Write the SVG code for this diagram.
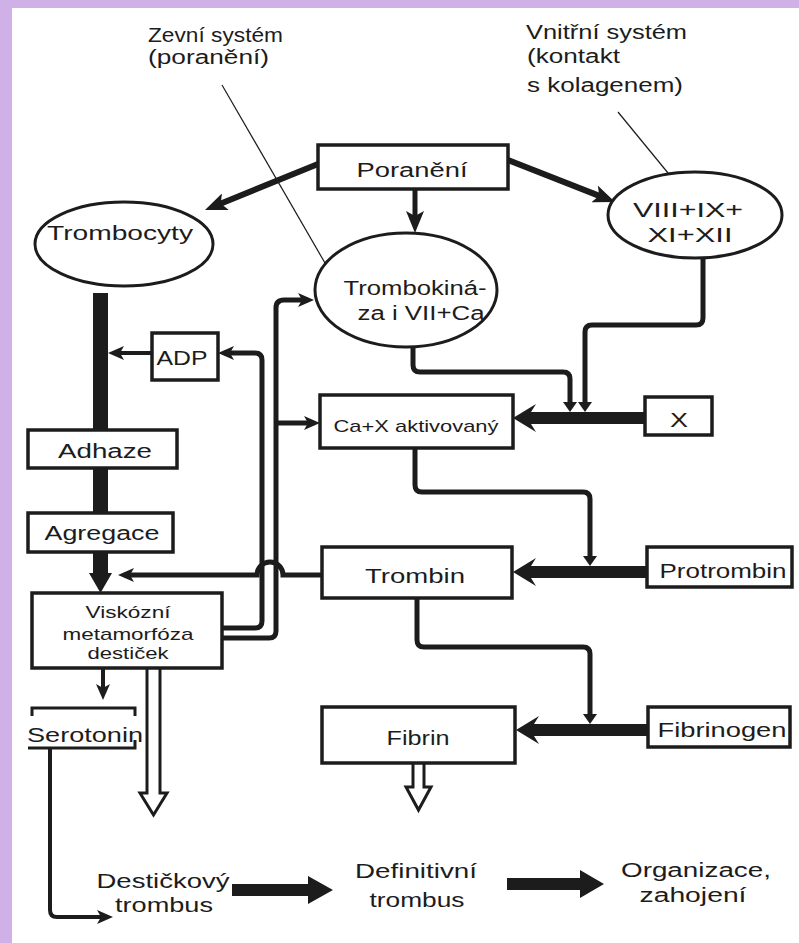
<svg xmlns="http://www.w3.org/2000/svg" width="799" height="943" viewBox="0 0 799 943">
<defs>
<style>
.t{font-family:"Liberation Sans",Arial,sans-serif;font-size:20px;fill:#1c1c1c}
.s{font-size:17px}
.box{fill:#fff;stroke:#1c1c1c;stroke-width:3.5}
.ell{fill:#fff;stroke:#1c1c1c;stroke-width:3}
.ln{fill:none;stroke:#1c1c1c;stroke-width:5}
.lt{fill:none;stroke:#1c1c1c;stroke-width:1.2}
.fill{fill:#1c1c1c}
.hol{fill:#fff;stroke:#1c1c1c;stroke-width:3}
</style>
<marker id="ah" viewBox="0 0 16 14" refX="10" refY="7" markerWidth="16" markerHeight="14" markerUnits="userSpaceOnUse" orient="auto">
<path d="M0,0 L16,7 L0,14 L4,7 z" fill="#1c1c1c"/>
</marker>
<marker id="ahL" viewBox="0 0 22 18" refX="14" refY="9" markerWidth="22" markerHeight="18" markerUnits="userSpaceOnUse" orient="auto">
<path d="M0,0 L22,9 L0,18 L5,9 z" fill="#1c1c1c"/>
</marker>
<marker id="ahs" viewBox="0 0 10 14" refX="4" refY="7" markerWidth="10" markerHeight="14" markerUnits="userSpaceOnUse" orient="auto">
<path d="M0,0 L10,7 L0,14 z" fill="#1c1c1c"/>
</marker>
</defs>
<rect x="0" y="0" width="799" height="943" fill="#fff"/>
<rect x="0" y="0" width="799" height="8" fill="#cfb1e7"/>
<rect x="0" y="0" width="12" height="943" fill="#cfb1e7"/>

<g id="connectors">
<line class="lt" x1="222" y1="85" x2="325" y2="263"/>
<line class="lt" x1="618" y1="112" x2="668" y2="173"/>
<path class="ln" style="stroke-width:6" d="M318,164 L212.4,207" marker-end="url(#ahL)"/>
<path class="ln" d="M415,190 V225" marker-end="url(#ahL)"/>
<path class="ln" style="stroke-width:6" d="M508,160 L607.6,199.1" marker-end="url(#ahL)"/>
<path class="ln" d="M703,258 V318 Q703,325 696,325 H592 Q585,325 585,332 V406" marker-end="url(#ahs)"/>
<path class="ln" d="M413,347 V365 Q413,372 420,372 H563 Q570,372 570,379 V406" marker-end="url(#ahs)"/>
<path class="fill" d="M513,418 L536,404 L531,412 H645 V424 H531 L536,432 Z"/>
<path class="ln" d="M415,448 V485 Q415,492 422,492 H583 Q590,492 590,499 V560" marker-end="url(#ahs)"/>
<path class="fill" d="M513,572 L536,558 L531,566 H647 V578 H531 L536,586 Z"/>
<path class="ln" d="M417,598 V640 Q417,647 424,647 H583 Q590,647 590,654 V718" marker-end="url(#ahs)"/>
<path class="fill" d="M516,730 L539,716 L534,724 H648 V736 H534 L539,744 Z"/>
<path class="hol" d="M413,763 V787 H406 L418.5,810 L431,787 H424 V763"/>
<rect class="fill" x="93" y="293" width="15" height="282"/>
<path class="fill" d="M89,573 L112,573 L100.5,593 Z"/>
<path class="ln" style="stroke-width:4" d="M152,353 H114" marker-end="url(#ah)"/>
<path class="ln" d="M222,628 H255 Q262,628 262,621 V360 Q262,353 255,353 H224" marker-end="url(#ah)"/>
<path class="ln" d="M222,638 H269 Q276,638 276,631 V308 Q276,300 284,300 H308" marker-end="url(#ah)"/>
<path class="ln" d="M276,423 H314" marker-end="url(#ah)"/>
<path class="ln" d="M322,575 H283 A12,12 0 0 0 257,575 H124" marker-end="url(#ah)"/>
<path class="ln" style="stroke-width:4" d="M103,668 V694" marker-end="url(#ah)"/>
<path class="hol" d="M147,668 V793 H140 L153.5,815 L167,793 H160 V668"/>
<path class="ln" style="stroke-width:4" d="M50,748 V910 Q50,917 57,917 H107" marker-end="url(#ah)"/>
<path class="fill" d="M232,884 H308 V876 L333,890 L308,904 V896 H232 Z"/>
<path class="fill" d="M507,878 H580 V870 L604,884 L580,898 V890 H507 Z"/>
</g>

<g id="label-zevni">
<text class="t" x="148" y="42" textLength="135" lengthAdjust="spacingAndGlyphs">Zevní systém</text>
<text class="t" x="148" y="64" textLength="121" lengthAdjust="spacingAndGlyphs">(poranění)</text>
</g>
<g id="label-vnitrni">
<text class="t" x="526" y="39" textLength="161" lengthAdjust="spacingAndGlyphs">Vnitřní systém</text>
<text class="t" x="527" y="63" textLength="93" lengthAdjust="spacingAndGlyphs">(kontakt</text>
<text class="t" x="527" y="92" textLength="156" lengthAdjust="spacingAndGlyphs">s kolagenem)</text>
</g>
<g id="poraneni">
<rect class="box" x="318" y="145" width="190" height="44"/>
<text class="t" x="412" y="177" text-anchor="middle" textLength="111" lengthAdjust="spacingAndGlyphs">Poranění</text>
</g>
<g id="trombocyty">
<ellipse class="ell" cx="124" cy="244" rx="89" ry="42"/>
<text class="t" x="120" y="240" text-anchor="middle" textLength="146" lengthAdjust="spacingAndGlyphs">Trombocyty</text>
</g>
<g id="trombokinaza">
<ellipse class="ell" cx="406" cy="290" rx="91" ry="57"/>
<text class="t" x="415" y="295" text-anchor="middle" textLength="143" lengthAdjust="spacingAndGlyphs">Trombokiná-</text>
<text class="t" x="421" y="320" text-anchor="middle" textLength="127" lengthAdjust="spacingAndGlyphs">za i VII+Ca</text>
</g>
<g id="viii">
<ellipse class="ell" cx="695" cy="215" rx="87" ry="43"/>
<text class="t" x="688" y="217" text-anchor="middle" textLength="110" lengthAdjust="spacingAndGlyphs">VIII+IX+</text>
<text class="t" x="690" y="242" text-anchor="middle" textLength="85" lengthAdjust="spacingAndGlyphs">XI+XII</text>
</g>
<g id="adp">
<rect class="box" x="152" y="333" width="66" height="47"/>
<text class="t" x="182" y="365" text-anchor="middle" textLength="51" lengthAdjust="spacingAndGlyphs">ADP</text>
</g>
<g id="cax">
<rect class="box" x="320" y="395" width="193" height="53"/>
<text class="t s" x="416" y="432" text-anchor="middle" textLength="165" lengthAdjust="spacingAndGlyphs">Ca+X aktivovaný</text>
</g>
<g id="x">
<rect class="box" x="645" y="397" width="67" height="38"/>
<text class="t" x="679" y="427" text-anchor="middle" textLength="18" lengthAdjust="spacingAndGlyphs">X</text>
</g>
<g id="adhaze">
<rect class="box" x="28" y="430" width="149" height="38"/>
<text class="t" x="105" y="458" text-anchor="middle" textLength="94" lengthAdjust="spacingAndGlyphs">Adhaze</text>
</g>
<g id="agregace">
<rect class="box" x="28" y="513" width="145" height="39"/>
<text class="t" x="102" y="540" text-anchor="middle" textLength="115" lengthAdjust="spacingAndGlyphs">Agregace</text>
</g>
<g id="trombin">
<rect class="box" x="322" y="547" width="190" height="51"/>
<text class="t" x="415" y="583" text-anchor="middle" textLength="100" lengthAdjust="spacingAndGlyphs">Trombin</text>
</g>
<g id="protrombin">
<rect class="box" x="647" y="547" width="145" height="40"/>
<text class="t" x="723" y="578" text-anchor="middle" textLength="127" lengthAdjust="spacingAndGlyphs">Protrombin</text>
</g>
<g id="viskozni">
<rect class="box" x="32" y="593" width="190" height="75"/>
<text class="t s" x="128" y="618" text-anchor="middle" textLength="85" lengthAdjust="spacingAndGlyphs">Viskózní</text>
<text class="t s" x="128" y="640" text-anchor="middle" textLength="131" lengthAdjust="spacingAndGlyphs">metamorfóza</text>
<text class="t s" x="128" y="659" text-anchor="middle" textLength="81" lengthAdjust="spacingAndGlyphs">destiček</text>
</g>
<g id="serotonin">
<path class="ln" style="stroke-width:3" d="M32,716 V708 H135 V716 M28,748 H135 V740"/>
<text class="t" x="85" y="742" text-anchor="middle" textLength="116" lengthAdjust="spacingAndGlyphs">Serotonin</text>
</g>
<g id="fibrin">
<rect class="box" x="322" y="707" width="193" height="56"/>
<text class="t" x="418" y="745" text-anchor="middle" textLength="63" lengthAdjust="spacingAndGlyphs">Fibrin</text>
</g>
<g id="fibrinogen">
<rect class="box" x="648" y="707" width="142" height="40"/>
<text class="t" x="722" y="737" text-anchor="middle" textLength="129" lengthAdjust="spacingAndGlyphs">Fibrinogen</text>
</g>
<g id="desticky">
<text class="t" x="163" y="888" text-anchor="middle" textLength="133" lengthAdjust="spacingAndGlyphs">Destičkový</text>
<text class="t" x="164" y="912" text-anchor="middle" textLength="98" lengthAdjust="spacingAndGlyphs">trombus</text>
</g>
<g id="definitivni">
<text class="t" x="416" y="878" text-anchor="middle" textLength="122" lengthAdjust="spacingAndGlyphs">Definitivní</text>
<text class="t" x="417" y="907" text-anchor="middle" textLength="95" lengthAdjust="spacingAndGlyphs">trombus</text>
</g>
<g id="organizace">
<text class="t" x="696" y="877" text-anchor="middle" textLength="150" lengthAdjust="spacingAndGlyphs">Organizace,</text>
<text class="t" x="693" y="902" text-anchor="middle" textLength="107" lengthAdjust="spacingAndGlyphs">zahojení</text>
</g>
</svg>
